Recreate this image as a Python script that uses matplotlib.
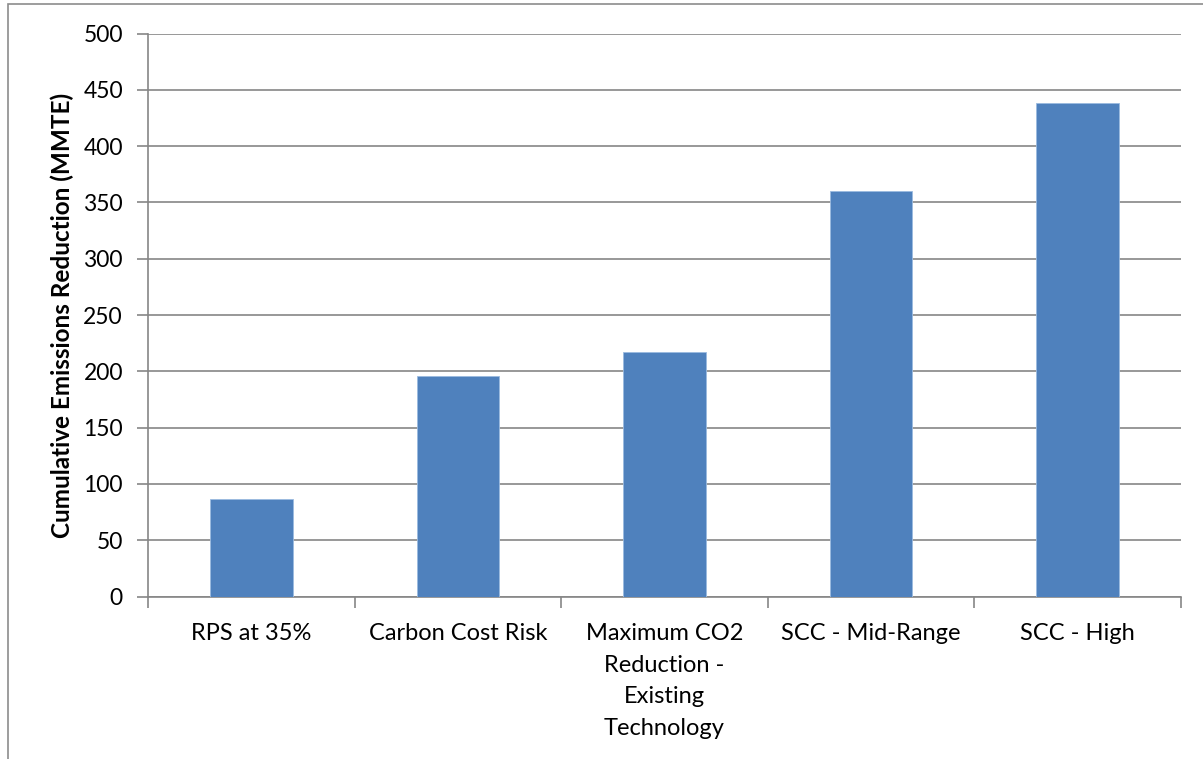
import matplotlib
matplotlib.use("Agg")
import matplotlib.pyplot as plt
from matplotlib.patches import Rectangle

categories = ["RPS at 35%", "Carbon Cost Risk",
              "Maximum CO2\nReduction -\nExisting\nTechnology",
              "SCC - Mid-Range", "SCC - High"]
values = [87, 196, 217, 360, 438]
y_ticks = [0, 50, 100, 150, 200, 250, 300, 350, 400, 450, 500]

W, H = 1203, 759
fig = plt.figure(figsize=(W / 100, H / 100), dpi=100)
plt.rcParams["font.family"] = ["Lato", "DejaVu Sans"]

# outer chart border
fig.patches.append(Rectangle((8 / W, -0.01), 1.2, 1 - 4 / H + 0.01,
                             transform=fig.transFigure, fill=False,
                             edgecolor="#8c8c8c", linewidth=1.2))

ax = fig.add_axes([148 / W, 1 - 596.5 / H, (1181 - 148) / W, (596.5 - 33.5) / H])
x = range(len(categories))
ax.bar(x, values, width=0.4, color="#4F81BD", edgecolor="#9bbbe0",
       linewidth=0.6, zorder=3)

ax.set_xlim(-0.5, len(categories) - 0.5)
ax.set_ylim(0, 500)
ax.set_yticks(y_ticks)
ax.tick_params(axis="y", labelsize=16.5, length=8, width=1.2, color="#868686",
               direction="out", pad=10)
ax.yaxis.grid(True, color="#868686", linewidth=1.2, zorder=0)
ax.set_axisbelow(True)

ax.set_xticks([i - 0.5 for i in range(len(categories) + 1)])
ax.set_xticklabels([])
ax.set_xticks(list(x), minor=True)
ax.set_xticklabels(categories, minor=True, fontsize=17, linespacing=1.63)
ax.tick_params(axis="x", which="major", length=8, width=1.2, color="#868686",
               direction="out")
ax.tick_params(axis="x", which="minor", length=0, pad=19)
for lbl in ax.get_xticklabels(minor=True):
    lbl.set_verticalalignment("top")

for side in ["top", "right"]:
    ax.spines[side].set_visible(False)
for side in ["left", "bottom"]:
    ax.spines[side].set_color("#868686")
    ax.spines[side].set_linewidth(1.2)

ax.set_ylabel("Cumulative Emissions Reduction (MMTE)", fontsize=17.5,
              fontweight="bold", labelpad=7)

fig.savefig("out.png", dpi=100)
